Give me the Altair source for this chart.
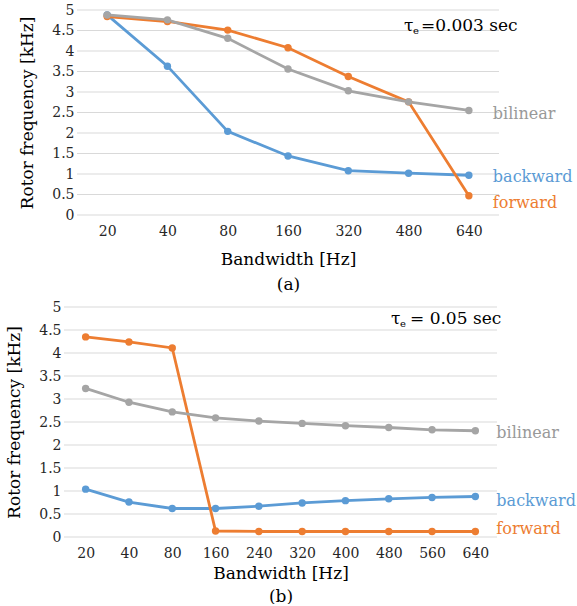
import altair as alt
import pandas as pd

# ---- data ----
series_names = ["backward", "forward", "bilinear"]
series_colors = ["#5B9BD5", "#ED7D31", "#A5A5A5"]
label_colors = ["#5B9BD5", "#ED7D31", "#999999"]

top_bw = ["20", "40", "80", "160", "320", "480", "640"]
top_backward = [4.88, 3.63, 2.04, 1.44, 1.08, 1.02, 0.97]
top_forward = [4.84, 4.72, 4.51, 4.08, 3.38, 2.76, 0.47]
top_bilinear = [4.88, 4.76, 4.31, 3.56, 3.03, 2.76, 2.55]

bot_bw = ["20", "40", "80", "160", "240", "320", "400", "480", "560", "640"]
bot_backward = [1.04, 0.76, 0.62, 0.62, 0.67, 0.74, 0.79, 0.83, 0.86, 0.88]
bot_forward = [4.35, 4.24, 4.11, 0.13, 0.12, 0.12, 0.12, 0.12, 0.12, 0.12]
bot_bilinear = [3.23, 2.93, 2.72, 2.59, 2.52, 2.47, 2.42, 2.38, 2.33, 2.31]

y_ticks = [0, 0.5, 1, 1.5, 2, 2.5, 3, 3.5, 4, 4.5, 5]

FONT = "DejaVu Serif"
TICK_FS = 14
TITLE_FS = 17
LABEL_FS = 16
ANN_FS = 17


def make_panel(bws, values, width, height, x0, caption, title_pad, line_h,
               label_dx, label_dys, ann_x, ann_y, ann_rest, ann_rest_dx):
    rows = []
    for s, vals in zip(series_names, values):
        for b, v in zip(bws, vals):
            rows.append({"bw": b, "value": v, "series": s})
    df = pd.DataFrame(rows)

    xscale = alt.Scale(type="point", padding=0.5, range=[x0, width])
    yscale = alt.Scale(domain=[0, 5])
    color = alt.Color("series:N", scale=alt.Scale(domain=series_names, range=series_colors), legend=None)

    xaxis = alt.Axis(title=["Bandwidth [Hz]", caption], labelAngle=0, ticks=False,
                     domain=False, grid=False, labelFont=FONT, labelFontSize=TICK_FS,
                     labelColor="#262626", labelPadding=9, titleFont=FONT,
                     titleFontSize=TITLE_FS, titleFontWeight="normal", titleColor="#000000",
                     titlePadding=title_pad, titleLineHeight=line_h)
    yaxis = alt.Axis(title="Rotor frequency [kHz]", values=y_ticks, format="~g",
                     ticks=False, domain=False, grid=False, offset=-x0,
                     labelFont=FONT, labelFontSize=TICK_FS, labelColor="#262626",
                     labelPadding=3, titleFont=FONT, titleFontSize=TITLE_FS,
                     titleFontWeight="normal", titleColor="#000000", titlePadding=15)
    xenc = alt.X("bw:O", sort=bws, scale=xscale, axis=xaxis)
    yenc = alt.Y("value:Q", scale=yscale, axis=yaxis)

    grid = alt.Chart(pd.DataFrame({"value": y_ticks})).mark_rule(color="#D9D9D9", strokeWidth=1).encode(
        y=yenc, x=alt.value(x0), x2=alt.value(width))

    base = alt.Chart(df)
    lines = base.mark_line(strokeWidth=2.8).encode(x=xenc, y=yenc, color=color, detail="series:N")
    pts = base.mark_circle(size=55, opacity=1).encode(x=xenc, y=yenc, color=color)

    layers = [grid, lines, pts]
    last = bws[-1]
    for s, vals, c, dy in zip(series_names, values, label_colors, label_dys):
        t = alt.Chart(pd.DataFrame({"bw": [last], "value": [vals[-1]], "txt": [s]})).mark_text(
            align="left", baseline="middle", dx=label_dx, dy=dy, font=FONT, fontSize=LABEL_FS, color=c
        ).encode(x=xenc, y=yenc, text="txt:N")
        layers.append(t)

    # annotation: tau with subscript e
    ann = pd.DataFrame({"a": [0]})
    layers.append(alt.Chart(ann).mark_text(align="left", baseline="middle", font=FONT, fontSize=ANN_FS,
                                           color="#000000").encode(
        x=alt.value(ann_x), y=alt.value(ann_y), text=alt.value("τ")))
    layers.append(alt.Chart(ann).mark_text(align="left", baseline="middle", font=FONT, fontSize=10,
                                           color="#000000").encode(
        x=alt.value(ann_x + 9), y=alt.value(ann_y + 5), text=alt.value("e")))
    layers.append(alt.Chart(ann).mark_text(align="left", baseline="middle", font=FONT, fontSize=ANN_FS,
                                           color="#000000").encode(
        x=alt.value(ann_x + ann_rest_dx), y=alt.value(ann_y), text=alt.value(ann_rest)))

    return alt.layer(*layers).properties(width=width, height=height)


top = make_panel(top_bw, [top_backward, top_forward, top_bilinear], 435, 205, 13, "(a)",
                 13, 25, 24, [2, 7, 4], 340, 16, "=0.003 sec", 17)
bottom = make_panel(bot_bw, [bot_backward, bot_forward, bot_bilinear], 433, 230, 0, "(b)",
                    5, 23, 21, [4, -2, 2], 327, 12, "= 0.05 sec", 19)

chart = alt.vconcat(top, bottom, spacing=8).properties(
    padding={"left": 5, "top": 3, "right": 0, "bottom": 0},
    background="white",
).configure_view(stroke=None)

chart.save("out.html", embed_options={"renderer": "svg", "actions": False})
